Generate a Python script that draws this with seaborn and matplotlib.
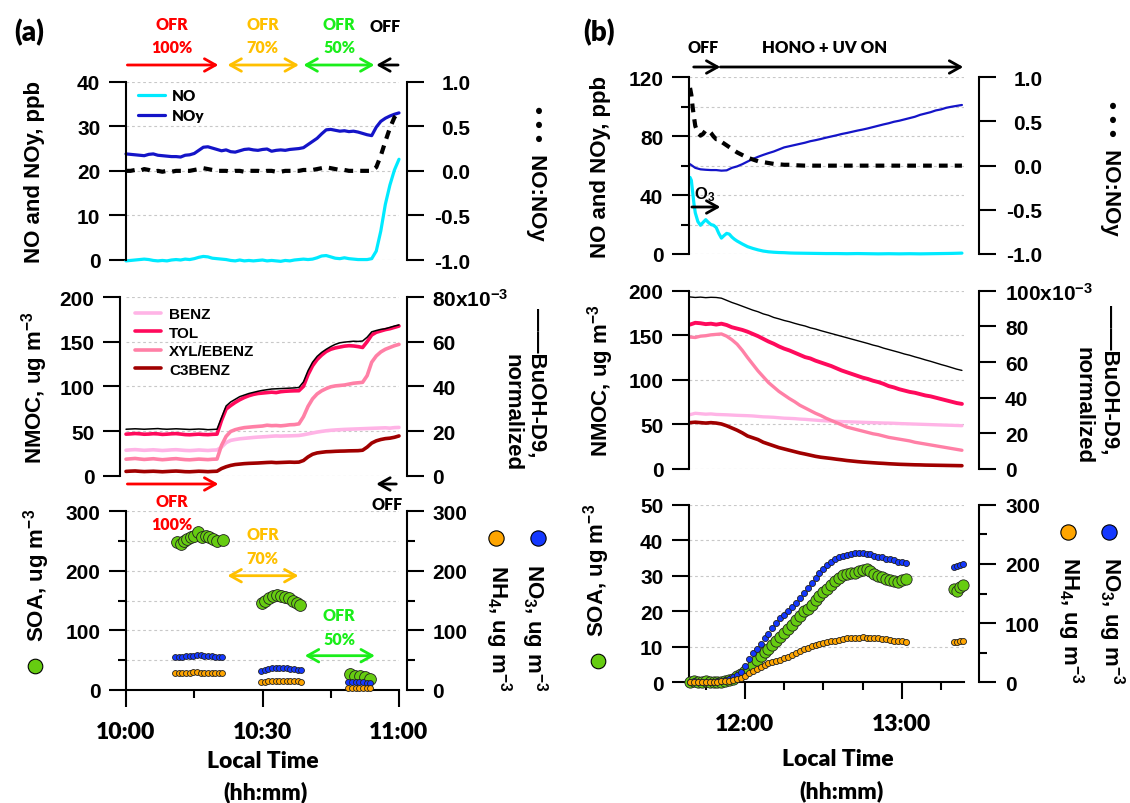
import numpy as np
import matplotlib
matplotlib.use("Agg")
import matplotlib.pyplot as plt
from matplotlib.lines import Line2D
from matplotlib.font_manager import FontProperties
import seaborn as sns

# ====================== DATA ======================
# ---- Panel (a): time in minutes of day (600 = 10:00) ----
t_a = np.arange(600, 661)
noy_a = [23.8, 23.7, 23.6, 23.5, 23.4, 23.7, 23.8, 23.5, 23.4, 23.3,
         23.2, 23.2, 23.1, 23.5, 23.6, 23.9, 24.6, 25.3, 25.4, 25.1,
         24.8, 24.5, 24.7, 24.3, 24.2, 24.5, 24.8, 24.9, 24.7, 24.6,
         24.8, 24.9, 24.4, 24.6, 24.7, 24.6, 24.8, 24.9, 25.0, 25.2,
         25.9, 26.6, 27.3, 28.3, 29.2, 29.3, 29.1, 28.9, 29.0, 28.8,
         28.9, 28.7, 28.4, 28.1, 27.9, 29.8, 31.1, 31.8, 32.3, 32.7, 33.0]
no_a = [-0.2, -0.1, 0.0, 0.1, 0.2, 0.1, -0.1, -0.2, -0.1, -0.2,
        0.0, 0.1, 0.0, 0.2, 0.1, 0.3, 0.6, 0.8, 0.7, 0.4,
        0.3, 0.2, 0.1, -0.1, -0.2, 0.0, -0.2, -0.1, -0.2, -0.1,
        0.0, -0.2, -0.1, -0.2, -0.3, -0.1, -0.2, 0.0, 0.1, 0.2,
        0.1, 0.2, 0.5, 0.9, 1.0, 0.7, 0.4, 0.3, 0.5, 0.3,
        0.2, 0.1, 0.1, 0.1, 0.3, 2.0, 6.5, 12.5, 16.8, 20.2, 22.6]
ratio_a = [0.0, 0.0, 0.01, 0.0, 0.02, 0.01, -0.01, 0.0, -0.01, 0.0,
           -0.01, 0.0, 0.0, 0.0, 0.0, 0.01, 0.02, 0.03, 0.02, 0.01,
           0.0, 0.0, 0.0, -0.01, 0.0, 0.0, -0.01, 0.0, 0.0, 0.0,
           -0.01, 0.0, 0.0, -0.01, -0.01, 0.0, 0.0, 0.0, 0.0, 0.01,
           0.01, 0.01, 0.02, 0.03, 0.04, 0.03, 0.02, 0.01, 0.01, 0.0,
           0.0, 0.0, 0.0, 0.0, 0.0, 0.04, 0.17, 0.33, 0.48, 0.6, 0.66]
benz_a = [28.5, 28.9, 29.2, 28.8, 28.4, 28.7, 29.0, 28.6, 28.2, 28.5,
          28.9, 29.1, 28.7, 28.3, 28.1, 28.4, 28.8, 28.5, 28.2, 28.6,
          28.8, 32.0, 37.0, 39.5, 40.5, 41.3, 41.8, 42.3, 42.8, 43.2,
          43.5, 43.8, 44.2, 44.5, 44.3, 44.5, 44.6, 44.8, 45.0, 45.8,
          46.8, 47.8, 48.8, 49.6, 50.3, 50.8, 51.2, 51.5, 51.8, 52.0,
          52.2, 52.4, 52.6, 52.8, 53.0, 53.2, 53.4, 53.6, 53.2, 53.8, 54.0]
tol_a = [46.5, 46.8, 47.2, 46.9, 46.4, 46.6, 47.0, 46.8, 46.2, 46.5,
         46.9, 47.1, 46.6, 46.0, 45.8, 46.2, 46.5, 46.1, 45.9, 46.3,
         46.5, 62.0, 74.5, 78.5, 82.0, 85.0, 87.5, 89.5, 91.0, 92.0,
         92.5, 93.0, 93.5, 93.0, 94.0, 94.5, 94.8, 95.0, 95.1, 100.0,
         113.0, 123.0, 130.0, 135.0, 139.0, 141.5, 143.0, 144.0, 145.0, 145.5,
         145.2, 144.5, 143.5, 150.0, 157.5, 160.5, 162.0, 163.5, 164.5, 166.0, 167.5]
xyl_a = [18.5, 18.9, 19.3, 18.7, 18.2, 18.6, 19.0, 18.4, 17.9, 18.3,
         18.8, 19.1, 18.5, 18.0, 17.8, 18.2, 18.6, 18.3, 18.0, 18.4,
         18.6, 34.0, 44.0, 49.5, 51.5, 52.8, 53.8, 54.3, 54.8, 55.2,
         55.6, 56.5, 56.0, 56.2, 55.8, 56.3, 57.0, 57.2, 58.0, 66.0,
         77.5, 86.0, 91.5, 95.0, 97.5, 99.5, 100.5, 101.0, 101.5, 102.5,
         103.5, 104.0, 104.5, 112.0, 127.0, 134.0, 138.5, 141.5, 143.5, 145.5, 147.0]
c3benz_a = [4.8, 5.1, 5.3, 4.9, 4.6, 4.8, 5.0, 4.7, 4.4, 4.7,
            5.0, 5.2, 4.9, 4.5, 4.4, 4.7, 5.0, 4.8, 4.5, 4.8,
            5.0, 8.0, 10.0, 11.5, 12.5, 13.0, 13.5, 13.8, 14.0, 14.2,
            14.5, 14.8, 15.0, 14.6, 14.8, 15.0, 15.2, 15.0, 15.2, 17.0,
            21.0, 24.0, 25.5, 26.2, 26.8, 27.0, 27.3, 27.5, 27.6, 27.8,
            27.9, 28.0, 28.5, 32.0, 36.5, 39.0, 40.5, 41.5, 42.0, 43.0, 44.5]
# BuOH-D9 normalized, in units of 1e-3
buoh_a = [20.8, 20.9, 21.0, 20.9, 20.8, 20.9, 21.0, 21.1, 20.9, 20.8,
          20.9, 21.0, 20.9, 20.8, 20.7, 20.8, 20.9, 20.8, 20.6, 20.7,
          20.8, 26.0, 31.2, 33.0, 34.2, 35.4, 36.1, 36.8, 37.3, 37.8,
          38.2, 38.5, 38.8, 38.9, 39.0, 39.1, 39.2, 39.3, 39.5, 42.0,
          47.0, 50.8, 53.4, 55.2, 56.6, 57.8, 58.8, 59.5, 59.8, 60.0,
          60.2, 60.1, 60.3, 62.0, 64.4, 65.0, 65.5, 65.8, 66.4, 67.0, 67.5]
# aerosol (a)
t_soa_a = [611.1, 612.0, 612.7, 613.5, 614.2, 614.9, 615.9, 616.6, 617.6, 618.3, 619.2, 620.1, 621.4,
           629.8, 630.5, 631.5, 632.4, 633.1, 634.0, 634.9, 635.9, 636.8, 637.5, 638.2,
           649.2, 650.3, 651.4, 652.5, 653.6]
soa_a = [248, 245, 250.6, 253.5, 256.3, 259, 264.7, 256.3, 259, 256.3, 253.5, 250.6, 252.3,
         146, 150, 154, 158.3, 159.5, 157.3, 155.6, 154, 150, 146, 142.7,
         26.9, 24, 23, 21.3, 18.5]
t_ion_a = [610.8, 611.6, 612.4, 613.2, 614.0, 614.8, 615.6, 616.4, 617.2, 618.0, 618.8, 619.6, 620.4, 621.2,
           629.7, 630.5, 631.3, 632.1, 632.9, 633.7, 634.5, 635.3, 636.1, 636.9, 637.7, 638.5,
           648.9, 649.7, 650.5, 651.3, 652.1, 652.9, 653.7]
no3_a = [55, 55.5, 56, 56.5, 57, 57.5, 59, 58, 57, 57, 56.5, 56, 55.5, 56,
         32.5, 34, 35.5, 36.5, 37, 37.5, 37, 36.5, 36, 35, 34, 33,
         14, 13.5, 13.5, 13, 13, 12.5, 12.5]
nh4_a = [28, 28.5, 28.5, 29, 29, 29.5, 30, 29, 28.5, 28.5, 28.5, 28.5, 28, 28.5,
         13.5, 14, 14.5, 15, 15, 15.5, 15.5, 15, 15, 14.5, 14.5, 14,
         4, 4, 4, 3.8, 3.8, 3.7, 3.6]

# ---- Panel (b): minutes of day (720 = 12:00) ----
t_b = np.arange(699, 804, 2)
noy_b = [61.0, 58.5, 57.5, 57.2, 57.0, 57.0, 56.6, 56.8, 58.5, 59.5,
         61.0, 62.8, 64.5, 66.0, 67.3, 68.5, 69.6, 71.0, 72.4, 73.2,
         74.0, 74.8, 75.6, 76.6, 77.3, 78.1, 79.0, 79.8, 80.6, 81.5,
         82.2, 83.0, 83.8, 84.5, 85.3, 86.2, 87.1, 88.0, 88.8, 89.8,
         90.5, 91.4, 92.3, 93.2, 94.5, 95.4, 96.3, 97.5, 98.2, 99.3,
         100.0, 100.6, 101.2]
t_no_b = [699, 699.5, 700, 700.5, 701, 702, 703, 704, 705, 706, 707, 708, 709, 710, 711, 712,
          713, 714, 715, 716, 717, 719, 721, 723, 725, 727, 729, 731, 733, 735, 737, 739,
          743, 747, 751, 755, 759, 763, 767, 771, 775, 779, 783, 787, 791, 795, 799, 803]
no_b = [52, 50, 42, 34, 28, 22, 19.5, 21.5, 23.3, 21.5, 20, 19.5, 18, 14, 10.8, 12.5,
        14, 13.5, 11.5, 10, 8.8, 6.8, 5, 3.8, 2.8, 2.0, 1.5, 1.2, 1.0, 0.9, 0.7, 0.6,
        0.5, 0.4, 0.3, 0.3, 0.2, 0.3, 0.2, 0.1, 0.2, 0.1, 0.2, 0.1, 0.2, 0.3, 0.4, 0.6]
ratio_b = [0.88, 0.8, 0.66, 0.55, 0.45, 0.37, 0.34, 0.36, 0.4, 0.4, 0.37, 0.33, 0.3, 0.3, 0.27, 0.25,
           0.23, 0.21, 0.19, 0.17, 0.15, 0.12, 0.09, 0.07, 0.05, 0.04, 0.03, 0.02, 0.015, 0.01, 0.01, 0.005,
           0.0, 0.0, 0.0, 0.0, 0.0, 0.0, 0.0, 0.0, 0.0, 0.0, 0.0, 0.0, 0.0, 0.0, 0.0, 0.0]
buoh_b = [96.5, 96.2, 96.4, 96.1, 96.3, 96.2, 95.8, 94.6, 93.4, 92.4,
          91.3, 90.2, 89.1, 88.2, 87.0, 86.2, 85.0, 84.2, 83.3, 82.6,
          81.7, 80.9, 80.2, 79.2, 78.5, 77.6, 76.8, 76.0, 75.2, 74.4,
          73.6, 72.8, 72.0, 71.2, 70.4, 69.5, 68.8, 67.8, 67.0, 66.2,
          65.4, 64.5, 63.8, 62.9, 62.1, 61.2, 60.4, 59.5, 58.6, 57.8,
          56.9, 56.0, 55.3]
tol_b = [162, 164, 163.5, 162.5, 163, 162, 163, 161.5, 159, 157.5,
         156, 154, 151.5, 149, 146, 143, 140.5, 137.5, 135, 133,
         130.5, 128, 125.5, 124, 121.5, 119.5, 117.5, 115.5, 113, 110.5,
         108.5, 106.5, 104.5, 102.5, 101, 99, 97.5, 95.5, 93, 91.5,
         89.5, 88, 86.5, 85.5, 84, 82.5, 81.5, 80, 78.5, 77,
         75.5, 74, 73]
xyl_b = [148, 147.5, 149, 149.5, 150.5, 151, 151.5, 149, 145, 140,
         133, 125, 117.5, 110, 103.5, 97, 92, 87, 83, 79,
         75.5, 71.5, 68.5, 65.5, 62.5, 60, 57, 54.5, 52, 49.5,
         47, 45.5, 44, 42.5, 41, 39.5, 38.5, 37, 35.5, 34.5,
         33.5, 32.5, 31.5, 30, 29, 28, 27, 26, 25, 24,
         23, 22, 21]
benz_b = [61, 62.5, 62, 61.5, 61.8, 61.2, 61, 60.8, 60.5, 60.2,
          60, 59.8, 59.5, 59, 58.5, 58.3, 58, 57.5, 57, 56.8,
          56.5, 56, 55.7, 55.2, 54.8, 54.3, 54, 53.8, 53.5, 53.2,
          53, 52.8, 52.6, 52.4, 52.2, 52, 51.8, 51.6, 51.5, 51.3,
          51, 50.8, 50.6, 50.4, 50.2, 50, 49.8, 49.6, 49.4, 49.2,
          49, 48.8, 48.6]
c3benz_b = [52, 52.5, 52, 51.5, 52, 51.5, 50.5, 48.5, 46, 43.5,
            40.5, 37, 35, 33, 30, 28, 26, 24, 22.5, 21,
            19.5, 18, 16.8, 15.5, 14.2, 13.2, 12.5, 11.8, 11, 10.3,
            9.5, 8.9, 8.3, 7.8, 7.4, 7, 6.6, 6.3, 5.9, 5.6,
            5.3, 5.1, 4.9, 4.7, 4.6, 4.4, 4.3, 4.2, 4.1, 4,
            3.9, 3.8, 3.7]
# aerosol (b)
t_s_b = list(np.arange(699, 782, 1.5)) + [800.0, 801.2, 802.4, 803.5]
soa_b = [0.1, 0.3, 0.2, 0.0, 0.4, 0.0, 0.0, 0.0, 0.2, 0.4,
         0.6, 0.9, 1.7, 2.4, 3.1, 3.8, 5.0, 6.2, 7.3, 8.4,
         9.5, 10.6, 11.7, 12.7, 13.8, 15.0, 16.0, 17.4, 18.8, 20.0,
         20.7, 21.8, 23.1, 24.3, 25.4, 26.4, 27.5, 28.6, 29.5, 30.1,
         30.6, 30.8, 30.9, 31.2, 31.6, 31.9, 31.2, 30.5, 30.0, 29.6,
         29.2, 28.8, 28.4, 28.2, 28.7, 29.2,
         26.3, 25.6, 26.8, 27.4]
no3_b = [1, 1.5, 1, 1, 0.5, 0.5, 1, 1.5, 2.5, 4,
         6, 9, 13, 17, 27, 40, 49, 57, 65.5, 74,
         82, 92, 101, 108, 114, 120.5, 127, 134, 142, 150.5,
         159.5, 167.5, 175.5, 184, 191.5, 198, 203.5, 208.5, 211, 213,
         214.5, 216.5, 218, 218.5, 218.5, 217.5, 216, 214, 212.5, 211,
         209, 207.5, 206, 204, 202.5, 201.5,
         194, 196, 198, 199]
nh4_b = [0.5, 0.5, 0.5, 0.5, 0.5, 0.5, 1, 1, 1.5, 2,
         3, 4, 5.5, 7, 10.5, 15, 19, 23, 26.5, 30,
         32.5, 34.5, 36.5, 38.5, 41, 43.5, 46.5, 49.5, 52.5, 55.5,
         58, 60.5, 63, 65, 66.5, 68, 69.5, 70.5, 72, 73,
         74, 74.5, 75, 75.5, 76, 75.5, 75, 74.5, 74, 73,
         72.5, 71.5, 70.5, 70, 69.5, 68.5,
         68.5, 68.8, 69.2, 69.5]

# ====================== STYLE ======================
W, H = 1130, 804
sns.set_style("white", rc={"axes.edgecolor": "black", "xtick.color": "black",
                           "ytick.color": "black", "text.color": "black"})
plt.rcParams["font.family"] = ["Liberation Sans", "DejaVu Sans"]
plt.rcParams["font.weight"] = "bold"
plt.rcParams["axes.unicode_minus"] = False
plt.rcParams["mathtext.fontset"] = "custom"
plt.rcParams["mathtext.rm"] = "Liberation Sans:bold"
plt.rcParams["mathtext.it"] = "Liberation Sans:bold"
plt.rcParams["mathtext.bf"] = "Liberation Sans:bold"
plt.rcParams["mathtext.sf"] = "Liberation Sans:bold"
plt.rcParams["mathtext.default"] = "rm"

C_NO, C_NOY = "#00eaff", "#1414c8"
C_BENZ, C_TOL, C_XYL, C_C3 = "#ffb4e6", "#ff0a5c", "#ff80a6", "#a00000"
C_SOA, C_NO3, C_NH4 = "#66cc11", "#1438ff", "#ffa500"
C_RED, C_ORG, C_GRN = "#ff0000", "#ffc000", "#1aee1a"
DOT = (0, (2.1, 1.7))
LATO = "Lato"
LW = "heavy"

fig = plt.figure(figsize=(W / 100, H / 100), dpi=100)


def rect(x0, x1, yt, yb):
    return [x0 / W, 1 - yb / H, (x1 - x0) / W, (yb - yt) / H]


def ftext(x, y, s, **kw):
    kw.setdefault("ha", "center")
    kw.setdefault("va", "center")
    kw.setdefault("fontweight", "bold")
    fig.text(x / W, 1 - y / H, s, **kw)


def ltext(x, y, s, **kw):
    kw.setdefault("fontfamily", LATO)
    kw.setdefault("fontweight", LW)
    ftext(x, y, s, **kw)


def fmarker(x, y, fc, ms):
    fig.add_artist(Line2D([x / W], [1 - y / H], marker="o", ms=ms, mfc=fc, mec="black",
                          mew=0.8, ls="none", transform=fig.transFigure))


def arrow(ax, x0, x1, y, color, style="->"):
    ax.annotate("", xy=(x1, H - y), xytext=(x0, H - y),
                xycoords=("data", "figure pixels"), textcoords=("data", "figure pixels"),
                annotation_clip=False,
                arrowprops=dict(arrowstyle=style + ",head_length=0.8,head_width=0.45",
                                color=color, lw=2.0, shrinkA=0, shrinkB=0, mutation_scale=10))


def style(ax, axr, xlim, ylim, yrlim, bottom, right_out, left_out=0.0, rpad=6.5, rha="left"):
    ax.set_xlim(*xlim)
    ax.set_ylim(*ylim)
    axr.set_ylim(*yrlim)
    for s in ["top", "right"]:
        ax.spines[s].set_visible(False)
    ax.spines["bottom"].set_visible(bottom)
    for s in ["top", "left", "bottom"]:
        axr.spines[s].set_visible(False)
    axr.spines["right"].set_position(("outward", right_out))
    ax.spines["left"].set_position(("outward", left_out))
    for sp in (ax.spines["left"], ax.spines["bottom"], axr.spines["right"]):
        sp.set_linewidth(1.5)
        sp.set_color("black")
    ax.tick_params(axis="y", which="major", direction="out", length=12, width=1.5, pad=6.5,
                   labelsize=15, left=True)
    ax.tick_params(axis="y", which="minor", direction="out", length=6, width=1.5, left=True)
    axr.tick_params(axis="y", which="major", direction="out", length=12, width=1.5, pad=rpad,
                    labelsize=15, right=True)
    axr.tick_params(axis="y", which="minor", direction="out", length=6, width=1.5, right=True)
    if bottom:
        ax.tick_params(axis="x", which="major", direction="out", length=12, width=1.5, pad=10,
                       bottom=True)
        ax.tick_params(axis="x", which="minor", direction="out", length=6, width=1.5, bottom=True)
    else:
        ax.tick_params(axis="x", which="both", bottom=False, labelbottom=False)
    ax.grid(False)
    axr.grid(False)
    ax.yaxis.grid(True, which="both", color="#c8c8c8", lw=0.8, ls=(0, (2.5, 2.5)))
    ax.set_xlabel("")
    ax.set_ylabel("")
    axr.set_ylabel("")
    for tk in axr.yaxis.get_major_ticks():
        tk.label2.set_horizontalalignment(rha)


def line(ax, x, y, color, lw, **kw):
    sns.lineplot(x=x, y=y, ax=ax, color=color, lw=lw, legend=False, clip_on=False, **kw)


def pts(ax, x, y, color, s):
    sns.scatterplot(x=x, y=y, ax=ax, color=color, s=s, edgecolor="#222222", linewidth=0.6,
                    legend=False, clip_on=False, zorder=3)


xt_font = dict(fontfamily=LATO, fontsize=16.5, fontweight=LW)

# ====================== PANEL (a) ======================
A_X0, A_X1 = 126, 399
axA1 = fig.add_axes(rect(A_X0, A_X1, 82.7, 261))
axA1r = axA1.twinx()
line(axA1, t_a, no_a, C_NO, 2.3, label="NO")
line(axA1, t_a, noy_a, C_NOY, 2.3, label="NOy")
line(axA1r, t_a, ratio_a, "black", 3.0, linestyle=DOT)
axA1.set_yticks([0, 10, 20, 30, 40])
axA1r.set_yticks([-1, -0.5, 0, 0.5, 1], labels=["-1.0", "-0.5", "0.0", "0.5", "1.0"])
style(axA1, axA1r, (600, 660), (0, 40), (-1, 1), False, 5.5, rpad=34, rha="right")
axA1.legend(loc="upper left", bbox_to_anchor=(137.5 / W, 1 - 90 / H), bbox_transform=fig.transFigure,
            frameon=False, prop=FontProperties(family=LATO, weight=LW, size=11),
            handlelength=1.8, handletextpad=0.45, labelspacing=0.45, borderpad=0, borderaxespad=0)

axA2 = fig.add_axes(rect(A_X0, A_X1, 298, 476.7))
axA2r = axA2.twinx()
line(axA2, t_a, benz_a, C_BENZ, 2.6, label="BENZ")
line(axA2, t_a, tol_a, C_TOL, 2.6, label="TOL")
line(axA2, t_a, xyl_a, C_XYL, 2.6, label="XYL/EBENZ")
line(axA2, t_a, c3benz_a, C_C3, 2.6, label="C3BENZ")
line(axA2r, t_a, buoh_a, "black", 1.1)
axA2.set_yticks([0, 50, 100, 150, 200])
axA2r.set_yticks([0, 20, 40, 60, 80], labels=["0", "20", "40", "60", "80x10$^{-3}$"])
style(axA2, axA2r, (600, 660), (0, 200), (0, 80), False, 5.5, left_out=4.3)
axA2.legend(loc="upper left", bbox_to_anchor=(134.5 / W, 1 - 308 / H), bbox_transform=fig.transFigure,
            frameon=False, prop=FontProperties(family="Liberation Sans", weight="bold", size=11),
            handlelength=1.75, handletextpad=0.5, labelspacing=0.3, borderpad=0, borderaxespad=0)

axA3 = fig.add_axes(rect(A_X0, A_X1, 512.3, 691))
axA3r = axA3.twinx()
pts(axA3, t_soa_a, soa_a, C_SOA, 72)
pts(axA3r, t_ion_a, no3_a, C_NO3, 18)
pts(axA3r, t_ion_a, nh4_a, C_NH4, 18)
axA3.set_yticks([0, 100, 200, 300])
axA3.set_yticks([50, 150, 250], minor=True)
axA3r.set_yticks([0, 100, 200, 300])
axA3r.set_yticks([50, 150, 250], minor=True)
axA3.set_xticks([600, 630, 660], labels=["10:00", "10:30", "11:00"], **xt_font)
axA3.set_xticks([615, 645], minor=True)
style(axA3, axA3r, (600, 660), (0, 300), (0, 300), True, 5.5)

# annotations (a)
ltext(29, 33, "(a)", fontsize=20)
ltext(172, 36.5, "OFR\n100%", color=C_RED, fontsize=11.5, linespacing=1.55)
ltext(262.5, 36.5, "OFR\n70%", color=C_ORG, fontsize=11.5, linespacing=1.55)
ltext(339, 36.5, "OFR\n50%", color=C_GRN, fontsize=11.5, linespacing=1.55)
ltext(385.5, 27, "OFF", fontsize=11.5)
arrow(axA1, 600.3, 620.3, 66, C_RED)
arrow(axA1, 622.3, 638.0, 66, C_ORG, "<->")
arrow(axA1, 639.0, 654.6, 66, C_GRN, "<->")
arrow(axA1, 659.8, 655.0, 66, "black")
arrow(axA2, 600.3, 620.3, 485, C_RED)
arrow(axA2, 659.4, 655.0, 485, "black")
ltext(172, 513.5, "OFR\n100%", color=C_RED, fontsize=11.5, linespacing=1.55)
ltext(387, 505, "OFF", fontsize=11.5)
ltext(262.5, 547, "OFR\n70%", color=C_ORG, fontsize=11.5, linespacing=1.55)
arrow(axA3, 622.3, 637.9, 576.7, C_ORG, "<->")
ltext(339, 628, "OFR\n50%", color=C_GRN, fontsize=11.5, linespacing=1.55)
arrow(axA3, 639.3, 654.7, 656.7, C_GRN, "<->")

ftext(34.5, 172, "NO and NOy, ppb", rotation=90, fontsize=16)
ftext(536.7, 173.5, "\u2022 \u2022 \u2022  NO:NOy", rotation=270, fontsize=16)
ftext(34.5, 387.5, "NMOC, ug m$^{-3}$", rotation=90, fontsize=16)
ftext(536.7, 382.5, "\u2014\u2014BuOH-D9,", rotation=270, fontsize=16)
ftext(511.7, 412.5, "normalized", rotation=270, fontsize=16)
ftext(37, 575, "SOA, ug m$^{-3}$", rotation=90, fontsize=16)
fmarker(34.5, 667, C_SOA, 10.5)
fmarker(496, 539, C_NH4, 11)
fmarker(537.5, 539, C_NO3, 11)
ftext(498, 628, "NH$_4$, ug m$^{-3}$", rotation=270, fontsize=16)
ftext(534.5, 628, "NO$_3$, ug m$^{-3}$", rotation=270, fontsize=16)
ltext(263, 762, "Local Time", fontsize=16.5)
ltext(265, 792, "(hh:mm)", fontsize=16.5)

# ====================== PANEL (b) ======================
B_X0, B_X1 = 689, 963.5
BX = (698.6, 803.6)
axB1 = fig.add_axes(rect(B_X0, B_X1, 78.3, 255))
axB1r = axB1.twinx()
line(axB1, t_no_b, no_b, C_NO, 2.3)
line(axB1, t_b, noy_b, C_NOY, 1.6)
line(axB1r, t_no_b, ratio_b, "black", 3.0, linestyle=DOT)
axB1.set_yticks([0, 40, 80, 120])
axB1.set_yticks([20, 60, 100], minor=True)
axB1r.set_yticks([-1, -0.5, 0, 0.5, 1], labels=["-1.0", "-0.5", "0.0", "0.5", "1.0"])
style(axB1, axB1r, BX, (0, 120), (-1, 1), False, 11.4, rpad=33.5, rha="right")

axB2 = fig.add_axes(rect(B_X0, B_X1, 291.7, 470))
axB2r = axB2.twinx()
line(axB2, t_b, benz_b, C_BENZ, 2.4)
line(axB2, t_b, tol_b, C_TOL, 2.8)
line(axB2, t_b, xyl_b, C_XYL, 2.4)
line(axB2, t_b, c3benz_b, C_C3, 2.6)
line(axB2r, t_b, buoh_b, "black", 1.0)
axB2.set_yticks([0, 50, 100, 150, 200])
axB2r.set_yticks([0, 20, 40, 60, 80, 100], labels=["0", "20", "40", "60", "80", "100x10$^{-3}$"])
style(axB2, axB2r, BX, (0, 200), (0, 100), False, 11.4)

axB3 = fig.add_axes(rect(B_X0, B_X1, 505.7, 683.3))
axB3r = axB3.twinx()
pts(axB3, t_s_b, soa_b, C_SOA, 66)
pts(axB3r, t_s_b, no3_b, C_NO3, 19)
pts(axB3r, t_s_b, nh4_b, C_NH4, 19)
axB3.set_yticks([0, 10, 20, 30, 40, 50])
axB3r.set_yticks([0, 100, 200, 300])
axB3r.set_yticks([50, 150, 250], minor=True)
axB3.set_xticks([720, 780], labels=["12:00", "13:00"], **xt_font)
axB3.set_xticks([705, 735, 750, 765, 795], minor=True)
style(axB3, axB3r, BX, (0, 50), (0, 300), True, 11.4)

ltext(598.7, 33, "(b)", fontsize=20)
ltext(702.6, 48, "OFF", fontsize=11.5)
ltext(824.5, 48, "HONO + UV ON", fontsize=12)
arrow(axB1, 700.4, 710.6, 68, "black")
arrow(axB1, 710.6, 803.5, 68, "black")
ftext(705, 195, "O$_3$", fontsize=12)
arrow(axB1, 699.7, 710.6, 208, "black")

ftext(600.5, 166.7, "NO and NOy, ppb", rotation=90, fontsize=16)
ftext(1110, 168.5, "\u2022 \u2022 \u2022  NO:NOy", rotation=270, fontsize=16)
ftext(600.5, 381, "NMOC, ug m$^{-3}$", rotation=90, fontsize=16)
ftext(1110, 379.5, "\u2014\u2014BuOH-D9,", rotation=270, fontsize=16)
ftext(1083.3, 406, "normalized", rotation=270, fontsize=16)
ftext(597, 570, "SOA, ug m$^{-3}$", rotation=90, fontsize=16)
fmarker(598, 661.7, C_SOA, 10.5)
fmarker(1068, 533, C_NH4, 11)
fmarker(1109.4, 533, C_NO3, 11)
ftext(1070, 620.5, "NH$_4$, ug m$^{-3}$", rotation=270, fontsize=16)
ftext(1111, 620.5, "NO$_3$, ug m$^{-3}$", rotation=270, fontsize=16)
ltext(838, 760, "Local Time", fontsize=16.5)
ltext(842, 791, "(hh:mm)", fontsize=16.5)

fig.savefig("out.png", dpi=100)
